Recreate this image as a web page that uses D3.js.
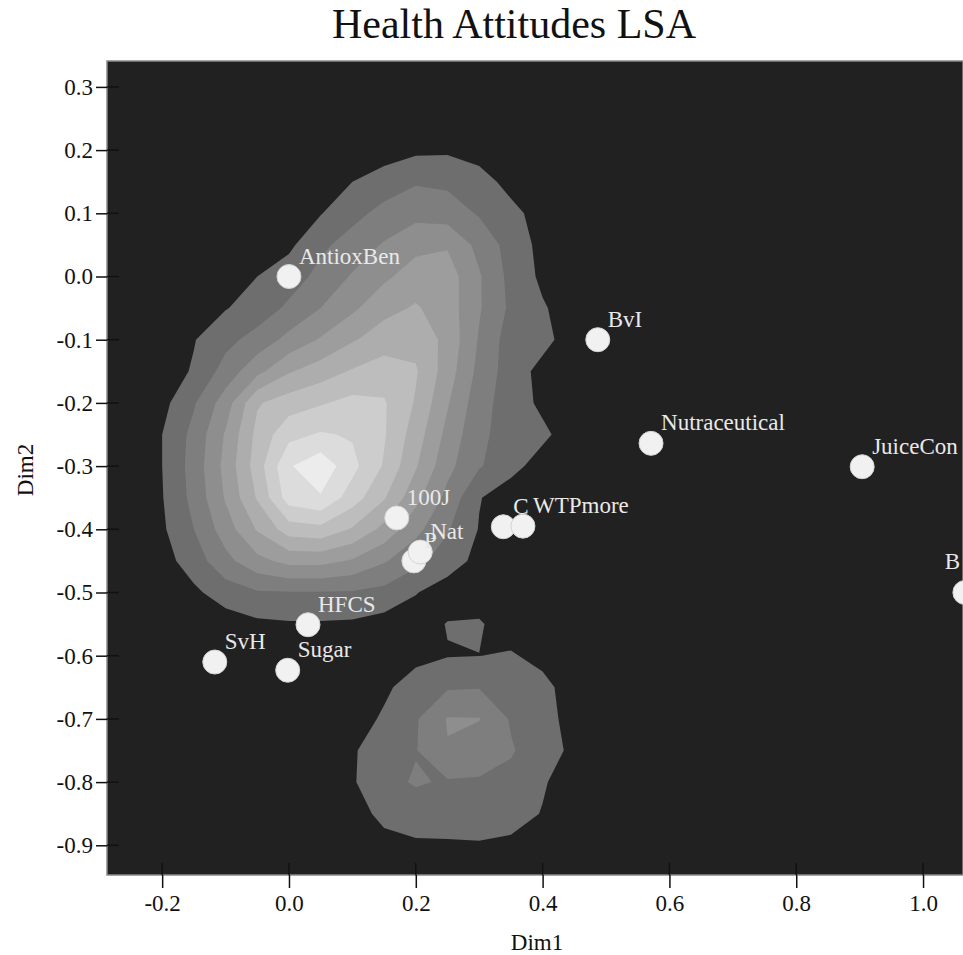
<!DOCTYPE html>
<html>
<head>
<meta charset="utf-8">
<script src="https://cdn.jsdelivr.net/npm/d3@7"></script>
<style>
  body { margin: 0; background: #ffffff; }
  svg { display: block; }
</style>
</head>
<body>
<svg id="chart" width="963" height="955"></svg>
<script>
// ---- term coordinates on the first two LSA dimensions ----
const termNames = ["AntioxBen", "BvI", "Nutraceutical", "JuiceCon", "B", "C", "WTPmore",
                   "100J", "P", "Nat", "HFCS", "SvH", "Sugar"];
const dim1Values = [0.00, 0.487, 0.571, 0.904, 1.066, 0.338, 0.369,
                    0.170, 0.197, 0.207, 0.030, -0.117, -0.002];
const dim2Values = [0.00, -0.100, -0.264, -0.301, -0.500, -0.396, -0.395,
                    -0.382, -0.450, -0.436, -0.551, -0.610, -0.623];

// ---- axis ticks ----
const xTickValues = [-0.2, 0.0, 0.2, 0.4, 0.6, 0.8, 1.0];
const yTickValues = [0.3, 0.2, 0.1, 0.0, -0.1, -0.2, -0.3, -0.4, -0.5, -0.6, -0.7, -0.8, -0.9];

// ---- document density, sampled on a regular Dim1 x Dim2 grid ----
const gridDim1 = [-0.25, -0.20, -0.15, -0.10, -0.05, 0.00, 0.05, 0.10,
                  0.15, 0.20, 0.25, 0.30, 0.35, 0.40, 0.45, 0.50];
const gridDim2 = [0.25, 0.20, 0.15, 0.10, 0.05, 0.00, -0.05, -0.10, -0.15, -0.20,
                  -0.25, -0.30, -0.35, -0.40, -0.45, -0.50, -0.55, -0.60, -0.65,
                  -0.70, -0.75, -0.80, -0.85, -0.90, -0.95];
const densityRows = [
  [0,0,0,0,0,0,0,0,0,0,0,0,0,0,0,0],
  [0,0,0,0,0,0,0,0,0,0.3,0.35,0,0,0,0,0],
  [0,0,0,0,0,0,0,0.5,1.0,1.4,1.3,1.0,0.1,0,0,0],
  [0,0,0,0,0,0,0.45,1.2,1.8,2.2,2.0,1.4,0.85,0,0,0],
  [0,0,0,0,0,0.3,1.3,1.9,2.6,3.2,3.4,2.2,1.1,0.2,0,0],
  [0,0,0,0,0.5,1.0,1.8,2.6,3.3,4.0,4.0,2.6,1.2,0.3,0,0],
  [0,0,0,0.45,0.9,1.7,2.5,3.3,4.2,4.6,4.0,2.6,1.3,0.6,0,0],
  [0,0,0.45,1.2,1.9,2.8,3.6,4.4,5.0,5.2,4.2,2.4,1.0,0.8,0,0],
  [0,0,0.6,1.9,3.2,4.4,5.0,5.6,6.0,5.6,4.0,2.2,1.0,0.2,0,0],
  [0,0.2,1.4,3.0,5.4,6.0,6.4,6.8,6.6,5.4,3.6,1.9,1.0,0.3,0,0],
  [0,0.5,1.8,3.6,5.8,7.2,7.6,7.4,6.6,5.0,3.2,1.7,1.1,0.7,0,0],
  [0,0.5,1.9,3.8,6.0,8.4,9.2,7.8,6.4,4.6,2.8,1.6,0.8,0.1,0,0],
  [0,0.45,1.8,3.6,5.6,8.0,8.4,7.0,5.6,3.8,2.2,0.55,0,0,0,0],
  [0,0.35,1.5,3.0,4.6,6.0,6.2,5.4,4.2,2.8,1.6,0.45,0,0,0,0],
  [0,0.1,1.0,2.2,3.2,3.8,3.8,3.4,2.6,1.8,1.0,0.2,0,0,0,0],
  [0,0,0.3,1.0,1.4,1.45,1.45,1.4,1.2,0.55,0,0,0,0,0,0],
  [0,0,0,0,0.3,0.4,0.4,0.35,0.1,0,0.55,0.6,0,0,0,0],
  [0,0,0,0,0,0,0,0,0,0.2,0.45,0.49,0.6,0.2,0,0],
  [0,0,0,0,0,0,0,0,0.3,1.0,1.4,1.45,1.2,0.8,0,0],
  [0,0,0,0,0,0,0,0,0.65,1.4,2.56,2.54,1.4,0.9,0.1,0],
  [0,0,0,0,0,0,0,0.4,1.0,1.45,2.45,2.0,1.6,0.9,0.3,0],
  [0,0,0,0,0,0,0,0.4,1.2,1.6,1.4,1.4,1.2,0.6,0,0],
  [0,0,0,0,0,0,0,0.1,0.75,1.0,1.1,1.1,0.9,0.45,0,0],
  [0,0,0,0,0,0,0,0,0.2,0.35,0.35,0.4,0.3,0,0,0],
  [0,0,0,0,0,0,0,0,0,0,0,0,0,0,0,0]
];
const densityLevels = [0.5, 1.5, 2.5, 3.5, 4.5, 5.5, 6.5, 7.5, 8.5];

// ---- layout ----
const svg = d3.select("#chart");
const plot = { left: 107, top: 61, right: 963, bottom: 875 };
const x = d3.scaleLinear().domain([-0.287, 1.063]).range([plot.left, plot.right]);
const y = d3.scaleLinear().domain([0.341, -0.947]).range([plot.top, plot.bottom]);
const serif = "'Liberation Serif', 'Times New Roman', Times, serif";
const fmt = d3.formatLocale({ decimal: ".", thousands: ",", grouping: [3],
                              currency: ["", ""], minus: "-" }).format(".1f");

svg.append("defs").append("clipPath").attr("id", "plotClip")
  .append("rect")
  .attr("x", plot.left).attr("y", plot.top)
  .attr("width", plot.right - plot.left).attr("height", plot.bottom - plot.top);

// title
svg.append("text")
  .attr("x", 514).attr("y", 38)
  .attr("text-anchor", "middle")
  .style("font-family", serif).style("font-size", "42px").style("fill", "#111")
  .text("Health Attitudes LSA");

// plot background
svg.append("rect")
  .attr("x", plot.left).attr("y", plot.top)
  .attr("width", plot.right - plot.left).attr("height", plot.bottom - plot.top)
  .attr("fill", "#212121")
  .attr("stroke", "#8a8a8a").attr("stroke-width", 1.5);

const plotArea = svg.append("g").attr("clip-path", "url(#plotClip)");

// filled density contours
const nx = gridDim1.length, ny = gridDim2.length;
const stepX = gridDim1[1] - gridDim1[0];
const stepY = gridDim2[1] - gridDim2[0];
const flat = densityRows.flat();
const contourGen = d3.contours().size([nx, ny]).thresholds(densityLevels);
const gridToScreen = d3.geoTransform({
  point: function (gx, gy) {
    this.stream.point(
      x(gridDim1[0] + (gx - 0.5) * stepX),
      y(gridDim2[0] + (gy - 0.5) * stepY)
    );
  }
});
const contourPath = d3.geoPath(gridToScreen);
const shade = d3.scaleLinear()
  .domain([0, densityLevels.length - 1])
  .range([110, 236]);

plotArea.append("g")
  .selectAll("path")
  .data(contourGen(flat))
  .join("path")
  .attr("d", contourPath)
  .attr("fill", (d, i) => { const g = Math.round(shade(i)); return `rgb(${g},${g},${g})`; })
  .attr("stroke", "none");

// inner tick marks on the dark panel
plotArea.append("g")
  .selectAll("line")
  .data(yTickValues)
  .join("line")
  .attr("x1", plot.left).attr("x2", plot.left + 12)
  .attr("y1", d => y(d)).attr("y2", d => y(d))
  .attr("stroke", "#111").attr("stroke-width", 1.5);
plotArea.append("g")
  .selectAll("line")
  .data(xTickValues)
  .join("line")
  .attr("x1", d => x(d)).attr("x2", d => x(d))
  .attr("y1", plot.bottom).attr("y2", plot.bottom - 12)
  .attr("stroke", "#111").attr("stroke-width", 1.5);

// term points
const terms = termNames.map((name, i) => ({ name, d1: dim1Values[i], d2: dim2Values[i] }));
plotArea.append("g")
  .selectAll("circle")
  .data(terms)
  .join("circle")
  .attr("cx", d => x(d.d1))
  .attr("cy", d => y(d.d2))
  .attr("r", 12)
  .attr("fill", "#f1f1f1")
  .attr("stroke", "#d4d4d4").attr("stroke-width", 1);

// term labels, pulled back inside the panel near the right edge
const labelLayer = plotArea.append("g");
terms.forEach(d => {
  const t = labelLayer.append("text")
    .style("font-family", serif).style("font-size", "23px").style("fill", "#e9e9e9")
    .text(d.name);
  const w = t.node().getComputedTextLength();
  let lx = x(d.d1) + 10, ly = y(d.d2) - 13;
  if (lx + w > plot.right - 2) { lx = plot.right - 3 - w; ly -= 11; }
  t.attr("x", lx).attr("y", ly);
});

// axes
const yAxis = svg.append("g")
  .attr("transform", `translate(${plot.left},0)`)
  .call(d3.axisLeft(y).tickValues(yTickValues).tickSize(11).tickPadding(3).tickFormat(fmt));
const xAxis = svg.append("g")
  .attr("transform", `translate(0,${plot.bottom})`)
  .call(d3.axisBottom(x).tickValues(xTickValues).tickSize(13).tickPadding(7).tickFormat(fmt));
[xAxis, yAxis].forEach(g => {
  g.select(".domain").remove();
  g.selectAll(".tick line").attr("stroke", "#111").attr("stroke-width", 1.5);
  g.selectAll(".tick text")
    .style("font-family", serif).style("font-size", "23px").style("fill", "#111");
});

// axis titles
svg.append("text")
  .attr("x", 537).attr("y", 950)
  .attr("text-anchor", "middle")
  .style("font-family", serif).style("font-size", "23px").style("fill", "#111")
  .text("Dim1");
svg.append("text")
  .attr("transform", "translate(33,470) rotate(-90)")
  .attr("text-anchor", "middle")
  .style("font-family", serif).style("font-size", "23px").style("fill", "#111")
  .text("Dim2");
</script>
</body>
</html>
